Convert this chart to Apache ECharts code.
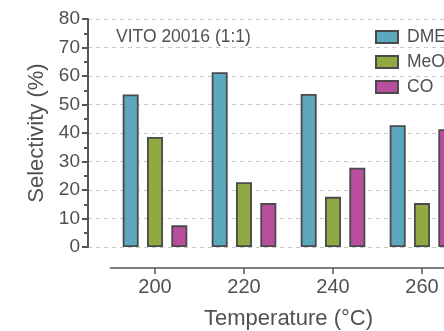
<!DOCTYPE html>
<html>
<head>
<meta charset="utf-8">
<script src="https://cdn.jsdelivr.net/npm/echarts@6/dist/echarts.min.js"></script>
<style>
html, body { margin: 0; padding: 0; overflow: hidden; background: #fff; }
#selChart { width: 480px; height: 331px; }
</style>
</head>
<body>
<div id="selChart"></div>
<script>
var temps = ['200', '220', '240', '260'];
var dme = [53.5, 61.3, 53.7, 42.7];
var meoh = [38.6, 22.7, 17.6, 15.4];
var co = [7.6, 15.4, 27.8, 41.3];
var yTicks = [0, 10, 20, 30, 40, 50, 60, 70, 80];

var textColor = '#505050';
var font = 'Liberation Sans';

var selChart = echarts.init(document.getElementById('selChart'));

// 柱子的边框
var border = { borderColor: '#4a4a4a', borderWidth: 1.8 };

var option = {
	animation : false,
	title : {
		text : 'VITO 20016 (1:1)',
		left : 111,
		top : 23,
		textStyle : { color : textColor, fontSize : 17.5, fontWeight : 'normal', fontFamily : font }
	},
	legend : {
		orient : 'vertical',
		left : 370,
		top : 23,
		itemWidth : 22,
		itemHeight : 12,
		itemGap : 7,
		icon : 'rect',
		data : [ 'DME', 'MeOH', 'CO' ],
		textStyle : { color : textColor, fontSize : 17.5, fontFamily : font, padding : [0, 0, 0, 4] }
	},
	grid : [ {
		left : 88, right : 13.5, top : 19, bottom : 84, outerBoundsMode : 'none'
	}, {
		left : 110.5, right : 13.5, top : 19, bottom : 84, outerBoundsMode : 'none'
	} ],
	xAxis : [ {
		gridIndex : 0, type : 'value', min : 0, max : 1, show : false
	}, {
		gridIndex : 1,
		type : 'category',
		data : temps,
		offset : 21,
		name : 'Temperature (°C)',
		nameLocation : 'middle',
		nameGap : 40,
		nameTextStyle : { color : textColor, fontSize : 22, fontFamily : font },
		axisLine : { onZero : false, lineStyle : { color : '#555', width : 1.5 } },
		axisTick : { show : true, alignWithLabel : true, length : 6, lineStyle : { color : '#555', width : 1.5 } },
		axisLabel : { color : textColor, fontSize : 20, fontFamily : font, margin : 9 }
	} ],
	yAxis : [ {
		gridIndex : 0,
		type : 'value',
		min : yTicks[0],
		max : yTicks[yTicks.length - 1],
		interval : 10,
		name : 'Selectivity (%)',
		nameLocation : 'middle',
		nameGap : 34,
		nameTextStyle : { color : textColor, fontSize : 22, fontFamily : font },
		axisLine : { show : true, lineStyle : { color : '#555', width : 2 } },
		axisTick : { show : true, length : 6, lineStyle : { color : '#555', width : 2 } },
		minorTick : { show : true, splitNumber : 2, length : 4, lineStyle : { color : '#555', width : 2 } },
		axisLabel : { color : textColor, fontSize : 19, fontFamily : font, margin : 8 },
		splitLine : { show : true, lineStyle : { color : '#c8c8c8', width : 1, type : [4, 4] } }
	}, {
		gridIndex : 1, type : 'value', min : 0, max : 80, show : false
	} ],
	series : [ {
		name : 'DME',
		type : 'bar',
		xAxisIndex : 1,
		yAxisIndex : 1,
		barWidth : 16,
		barGap : '52%',
		itemStyle : Object.assign({ color : '#5ba8bf' }, border),
		data : dme
	}, {
		name : 'MeOH',
		type : 'bar',
		xAxisIndex : 1,
		yAxisIndex : 1,
		barWidth : 16,
		barGap : '52%',
		itemStyle : Object.assign({ color : '#90a943' }, border),
		data : meoh
	}, {
		name : 'CO',
		type : 'bar',
		xAxisIndex : 1,
		yAxisIndex : 1,
		barWidth : 16,
		barGap : '52%',
		itemStyle : Object.assign({ color : '#b84e9d' }, border),
		data : co
	} ]
};
selChart.setOption(option);
</script>
</body>
</html>
